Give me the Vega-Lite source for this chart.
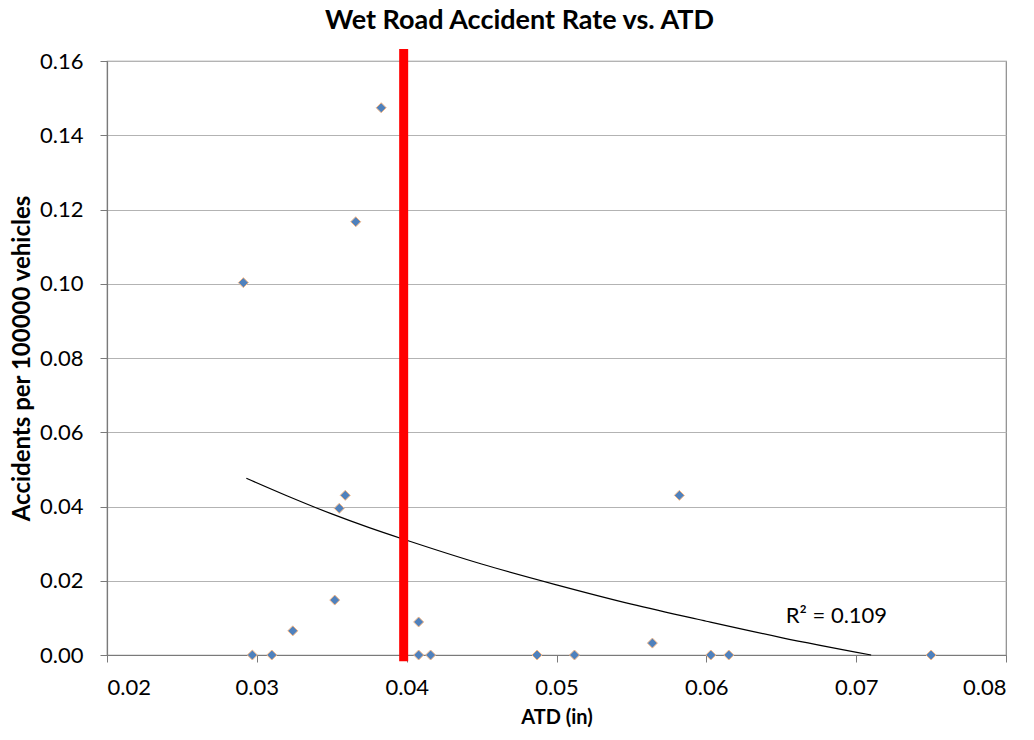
{
  "$schema": "https://vega.github.io/schema/vega-lite/v6.json",
  "width": 899,
  "height": 594,
  "autosize": "none",
  "padding": {"left": 107, "top": 61, "right": 28, "bottom": 85},
  "background": "white",
  "config": {
    "font": "Lato",
    "view": {"stroke": "#8a8a8a", "strokeWidth": 1.2}
  },
  "title": {
    "text": "Wet Road Accident Rate vs. ATD",
    "fontSize": 27,
    "fontWeight": "bold",
    "font": "Lato",
    "color": "#000000",
    "anchor": "middle",
    "dx": -37,
    "offset": 10
  },
  "datasets": {
    "points": [
      {"atd": 0.0291, "rate": 0.1003},
      {"atd": 0.0383, "rate": 0.1474},
      {"atd": 0.0366, "rate": 0.1167},
      {"atd": 0.0359, "rate": 0.0430},
      {"atd": 0.0355, "rate": 0.0395},
      {"atd": 0.0352, "rate": 0.0148},
      {"atd": 0.0324, "rate": 0.0065},
      {"atd": 0.0297, "rate": 0.0},
      {"atd": 0.0310, "rate": 0.0},
      {"atd": 0.0408, "rate": 0.0089},
      {"atd": 0.0408, "rate": 0.0},
      {"atd": 0.0416, "rate": 0.0},
      {"atd": 0.0487, "rate": 0.0},
      {"atd": 0.0512, "rate": 0.0},
      {"atd": 0.0564, "rate": 0.0032},
      {"atd": 0.0582, "rate": 0.0430},
      {"atd": 0.0603, "rate": 0.0},
      {"atd": 0.0615, "rate": 0.0},
      {"atd": 0.0750, "rate": 0.0}
    ],
    "trend": [
      {"atd": 0.0293, "rate": 0.0476},
      {"atd": 0.032, "rate": 0.0429},
      {"atd": 0.035, "rate": 0.0380},
      {"atd": 0.0375, "rate": 0.0343},
      {"atd": 0.04, "rate": 0.0309},
      {"atd": 0.045, "rate": 0.0245},
      {"atd": 0.05, "rate": 0.0189},
      {"atd": 0.055, "rate": 0.0137},
      {"atd": 0.06, "rate": 0.0091},
      {"atd": 0.065, "rate": 0.0047},
      {"atd": 0.071, "rate": 0.0}
    ],
    "threshold": [
      {"atd": 0.0398, "top": 0.1632, "bottom": -0.0017}
    ],
    "label": [
      {"atd": 0.0653, "rate": 0.0104, "text": "R² = 0.109"}
    ]
  },
  "layer": [
    {
      "data": {"name": "trend"},
      "mark": {"type": "line", "color": "#000000", "strokeWidth": 1.2, "interpolate": "monotone"},
      "encoding": {
        "x": {
          "field": "atd",
          "type": "quantitative",
          "scale": {"domain": [0.02, 0.08], "nice": false, "zero": false},
          "axis": {
            "values": [0.02, 0.03, 0.04, 0.05, 0.06, 0.07, 0.08],
            "format": ".2f",
            "title": "ATD (in)",
            "titleFontSize": 20,
            "titleFontWeight": "bold",
            "titleColor": "#000000",
            "titlePadding": 9,
            "labelFontSize": 22,
            "labelColor": "#000000",
            "labelPadding": 15,
            "tickSize": 7,
            "tickColor": "#7a7a7a",
            "domainColor": "#7a7a7a",
            "domainWidth": 1.2,
            "grid": false
          }
        },
        "y": {
          "field": "rate",
          "type": "quantitative",
          "scale": {"domain": [0, 0.16], "nice": false, "zero": false},
          "axis": {
            "values": [0, 0.02, 0.04, 0.06, 0.08, 0.1, 0.12, 0.14, 0.16],
            "format": ".2f",
            "title": "Accidents per 100000 vehicles",
            "titleFontSize": 24,
            "titleFontWeight": "bold",
            "titleColor": "#000000",
            "titlePadding": 5,
            "labelFontSize": 22,
            "labelColor": "#000000",
            "labelPadding": 17,
            "tickSize": 7,
            "tickColor": "#7a7a7a",
            "domainColor": "#7a7a7a",
            "domainWidth": 1.2,
            "grid": true,
            "gridColor": "#b3b3b3",
            "gridWidth": 1.2
          }
        }
      }
    },
    {
      "data": {"name": "points"},
      "mark": {"type": "point", "shape": "diamond", "filled": true, "size": 100, "color": "#4F81BD", "stroke": "#F6B886", "strokeWidth": 1, "opacity": 1},
      "encoding": {
        "x": {"field": "atd", "type": "quantitative"},
        "y": {"field": "rate", "type": "quantitative"}
      }
    },
    {
      "data": {"name": "threshold"},
      "mark": {"type": "rule", "color": "#FF0000", "strokeWidth": 9, "clip": false},
      "encoding": {
        "x": {"field": "atd", "type": "quantitative"},
        "y": {"field": "top", "type": "quantitative"},
        "y2": {"field": "bottom"}
      }
    },
    {
      "data": {"name": "label"},
      "mark": {"type": "text", "align": "left", "baseline": "middle", "fontSize": 22, "color": "#000000", "font": "Lato"},
      "encoding": {
        "x": {"field": "atd", "type": "quantitative"},
        "y": {"field": "rate", "type": "quantitative"},
        "text": {"field": "text"}
      }
    }
  ]
}
